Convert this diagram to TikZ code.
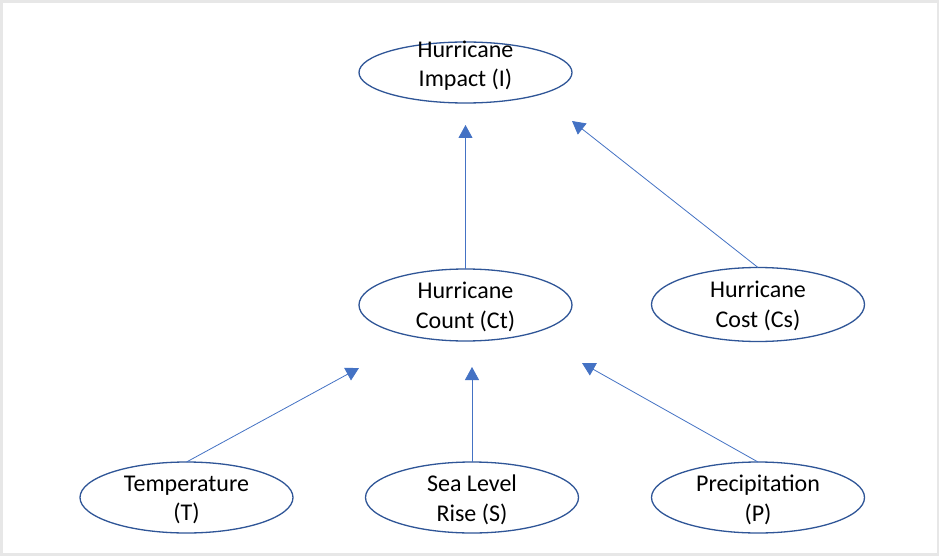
\documentclass[tikz,border=0pt]{standalone}
\usepackage{fontspec}
\setmainfont{Carlito}
\usetikzlibrary{shapes.geometric,arrows.meta}
\definecolor{ellblue}{RGB}{47,85,151}
\definecolor{arrblue}{RGB}{68,114,196}
\definecolor{framegray}{RGB}{231,231,231}
\tikzset{
  ell/.style={draw=ellblue, line width=1.3pt, ellipse, inner sep=0pt, outer sep=0pt, minimum width=213pt},
  lbl/.style={align=center, inner sep=0pt, font=\fontsize{24}{29.5}\selectfont},
  conn/.style={draw=arrblue, line width=0.8pt, -{Triangle[width=14pt,length=13pt]}, color=arrblue}
}
\begin{document}
\begin{tikzpicture}[x=1pt,y=-1pt]
\path[use as bounding box] (0,0) rectangle (939,556);
\fill[framegray] (0,0) rectangle (939,556);
\fill[white] (3,3) rectangle (937,553);

% ellipses
\node[ell, minimum height=61pt] (I) at (465.5,72.5) {};
\node[ell, minimum height=72pt] (Ct) at (465.5,305) {};
\node[ell, minimum height=74pt] (Cs) at (758,304.5) {};
\node[ell, minimum height=71pt] (T) at (186.5,497.5) {};
\node[ell, minimum height=71pt] (S) at (472,497.5) {};
\node[ell, minimum height=71pt] (P) at (758,497.5) {};

% labels
\node[lbl] (Itx) at (465.5,65.5) {Hurricane\\Impact (I)};
\node[lbl] (Cttx) at (465.5,307) {Hurricane\\Count (Ct)};
\node[lbl] (Cstx) at (758,306) {Hurricane\\Cost (Cs)};
\node[lbl] (Ttx) at (186.5,500) {Temperature\\(T)};
\node[lbl] (Stx) at (472,500) {Sea Level\\Rise (S)};
\node[lbl] (Ptx) at (758,500) {Precipitation\\(P)};

% free arrow ends
\coordinate (eI1) at (465.5,125);
\coordinate (eI2) at (572,121);
\coordinate (eC1) at (359,368);
\coordinate (eC2) at (472,367);
\coordinate (eC3) at (582,363);

% connectors
\draw[conn] (Ct.north) -- (eI1);
\draw[conn] (Cs.north) -- (eI2);
\draw[conn] (T.north) -- (eC1);
\draw[conn] (S.north) -- (eC2);
\draw[conn] (P.north) -- (eC3);
\end{tikzpicture}
\end{document}
